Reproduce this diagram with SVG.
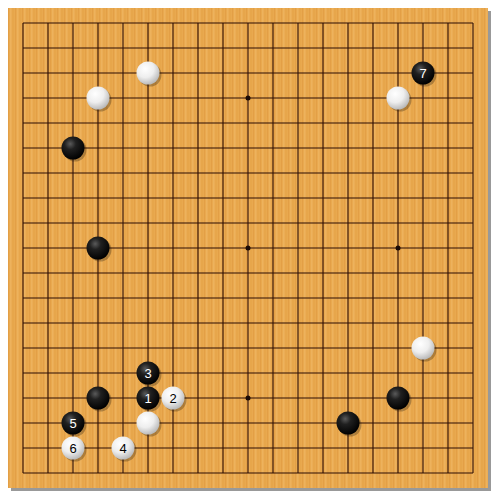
<svg xmlns="http://www.w3.org/2000/svg" width="500" height="500" viewBox="0 0 500 500">
<defs>
<pattern id="wood" x="0" y="0" width="7" height="500" patternUnits="userSpaceOnUse">
<rect width="7" height="500" fill="#E9A94F"/>
<rect x="1" width="1" height="500" fill="#E19C42" opacity="0.7"/>
<rect x="3" width="1.5" height="500" fill="#F0B865" opacity="0.6"/>
<rect x="5.5" width="1" height="500" fill="#DD9A40" opacity="0.5"/>
</pattern>
<radialGradient id="gb" cx="0.38" cy="0.32" r="0.7">
<stop offset="0" stop-color="#5a5a5a"/>
<stop offset="0.35" stop-color="#202020"/>
<stop offset="1" stop-color="#000"/>
</radialGradient>
<radialGradient id="gw" cx="0.38" cy="0.32" r="0.75">
<stop offset="0" stop-color="#ffffff"/>
<stop offset="0.5" stop-color="#eeeeee"/>
<stop offset="1" stop-color="#b0b0b0"/>
</radialGradient>
<style>
.ln{stroke:#2e0e04;stroke-width:1.1}
.b{fill:url(#gb)}
.w{fill:url(#gw)}
.sh{fill:#000;opacity:0.25}
.nb{fill:#fff;font-family:"Liberation Sans",Arial,sans-serif;font-size:13px;text-anchor:middle}
.nw{fill:#000;font-family:"Liberation Sans",Arial,sans-serif;font-size:13px;text-anchor:middle}
.hs{fill:#1a0a05}
</style>
</defs>
<rect width="500" height="500" fill="#fff"/>
<rect x="11" y="11" width="480" height="480" fill="#999"/>
<rect id="board" x="8" y="8" width="480" height="480" fill="url(#wood)"/>
<g id="grid" class="ln">
<path d="M23 23H473M23 48H473M23 73H473M23 98H473M23 123H473M23 148H473M23 173H473M23 198H473M23 223H473M23 248H473M23 273H473M23 298H473M23 323H473M23 348H473M23 373H473M23 398H473M23 423H473M23 448H473M23 473H473"/>
<path d="M23 23V473M48 23V473M73 23V473M98 23V473M123 23V473M148 23V473M173 23V473M198 23V473M223 23V473M248 23V473M273 23V473M298 23V473M323 23V473M348 23V473M373 23V473M398 23V473M423 23V473M448 23V473M473 23V473"/>
</g>
<g id="hoshi" class="hs">
<circle cx="248" cy="98" r="2.5"/>
<circle cx="248" cy="248" r="2.5"/>
<circle cx="398" cy="248" r="2.5"/>
<circle cx="248" cy="398" r="2.5"/>
</g>
<g id="shadows" class="sh">
<circle cx="150" cy="75" r="11.5"/><circle cx="100" cy="100" r="11.5"/><circle cx="400" cy="100" r="11.5"/><circle cx="425" cy="350" r="11.5"/><circle cx="150" cy="425" r="11.5"/><circle cx="175" cy="400" r="11.5"/><circle cx="125" cy="450" r="11.5"/><circle cx="75" cy="450" r="11.5"/>
<circle cx="425" cy="75" r="11.5"/><circle cx="75" cy="150" r="11.5"/><circle cx="100" cy="250" r="11.5"/><circle cx="150" cy="375" r="11.5"/><circle cx="150" cy="400" r="11.5"/><circle cx="100" cy="400" r="11.5"/><circle cx="75" cy="425" r="11.5"/><circle cx="400" cy="400" r="11.5"/><circle cx="350" cy="425" r="11.5"/>
</g>
<g id="white-stones">
<circle class="w" cx="148" cy="73" r="11.5"/>
<circle class="w" cx="98" cy="98" r="11.5"/>
<circle class="w" cx="398" cy="98" r="11.5"/>
<circle class="w" cx="423" cy="348" r="11.5"/>
<circle class="w" cx="148" cy="423" r="11.5"/>
<g id="w2"><circle class="w" cx="173" cy="398" r="11.5"/><text class="nw" x="173" y="402.5">2</text></g>
<g id="w4"><circle class="w" cx="123" cy="448" r="11.5"/><text class="nw" x="123" y="452.5">4</text></g>
<g id="w6"><circle class="w" cx="73" cy="448" r="11.5"/><text class="nw" x="73" y="452.5">6</text></g>
</g>
<g id="black-stones">
<g id="b7"><circle class="b" cx="423" cy="73" r="11.5"/><text class="nb" x="423" y="77.5">7</text></g>
<circle class="b" cx="73" cy="148" r="11.5"/>
<circle class="b" cx="98" cy="248" r="11.5"/>
<g id="b3"><circle class="b" cx="148" cy="373" r="11.5"/><text class="nb" x="148" y="377.5">3</text></g>
<g id="b1"><circle class="b" cx="148" cy="398" r="11.5"/><text class="nb" x="148" y="402.5">1</text></g>
<circle class="b" cx="98" cy="398" r="11.5"/>
<g id="b5"><circle class="b" cx="73" cy="423" r="11.5"/><text class="nb" x="73" y="427.5">5</text></g>
<circle class="b" cx="398" cy="398" r="11.5"/>
<circle class="b" cx="348" cy="423" r="11.5"/>
</g>
</svg>
